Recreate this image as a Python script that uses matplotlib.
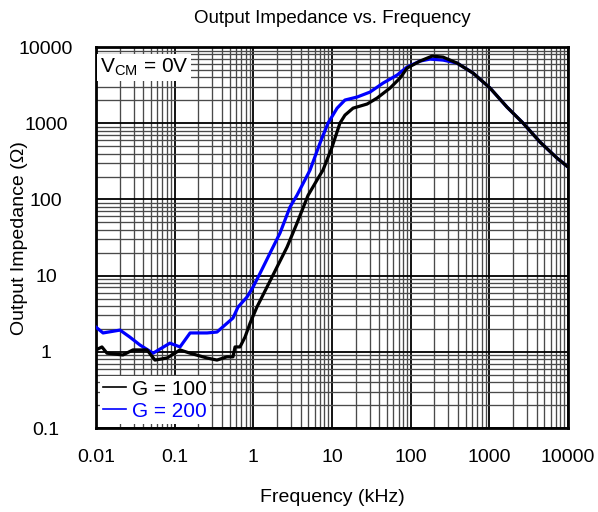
import matplotlib
matplotlib.use("Agg")
import matplotlib.pyplot as plt
from matplotlib.ticker import LogLocator, FixedLocator, NullFormatter

plt.rcParams['font.family'] = ['Liberation Sans', 'DejaVu Sans']

# Frequency (kHz) and output impedance (ohm)
freq_g100 = [0.01, 0.0119, 0.0138, 0.022, 0.0295, 0.0445, 0.0562, 0.080, 0.117, 0.157,
             0.258, 0.345, 0.462, 0.551, 0.585, 0.676, 0.783, 0.91, 1.11, 1.49,
             2.00, 2.68, 3.59, 4.95, 6.44, 7.67, 10.0, 12.6, 14.6, 18.5,
             27.9, 37.3, 54.6, 73.1, 89.8, 131, 187, 258, 388, 620,
             1019, 1675, 2680, 4400, 7240, 10000]
z_g100 = [1.06, 1.16, 0.96, 0.91, 1.06, 1.06, 0.78, 0.83, 1.06, 0.96,
          0.83, 0.78, 0.86, 0.86, 1.16, 1.16, 1.56, 2.39, 3.87, 7.08,
          13.0, 23.7, 49.0, 113, 180, 243, 487, 1005, 1280, 1580,
          1790, 2140, 2900, 3920, 5300, 6550, 7620, 7390, 6170, 4560,
          2900, 1630, 1005, 567, 349, 266]

freq_g200 = [0.01, 0.0123, 0.0202, 0.027, 0.0362, 0.0531, 0.087, 0.117, 0.157, 0.258,
             0.345, 0.436, 0.551, 0.638, 0.83, 0.99, 1.22, 1.63, 2.18, 2.92,
             3.59, 5.25, 7.03, 8.89, 11.6, 14.6, 20.8, 30.4, 44.5, 67.0,
             89.8, 131, 176, 258, 388, 620, 1019, 1675, 2680, 4400,
             7240, 10000]
z_g200 = [2.11, 1.77, 1.93, 1.56, 1.23, 0.96, 1.30, 1.16, 1.77, 1.77,
          1.82, 2.25, 2.78, 3.87, 5.24, 7.08, 10.8, 19.8, 36.2, 79.4,
          114, 243, 550, 1005, 1580, 2020, 2210, 2570, 3370, 4290,
          5470, 6550, 6960, 6750, 6170, 4560, 2900, 1630, 1005, 567,
          349, 266]

x_ticks = [0.01, 0.1, 1, 10, 100, 1000, 10000]
x_labels = ['0.01', '0.1', '1', '10', '100', '1000', '10000']
y_ticks = [0.1, 1, 10, 100, 1000, 10000]
y_labels = ['0.1', '1', '10', '100', '1000', '10000']

fig = plt.figure(figsize=(5.98, 5.12), dpi=100)
ax = fig.add_axes([0.1605, 0.164, 0.7895, 0.744])

ax.plot(freq_g100, z_g100, color='black', lw=2.3, label='G = 100', zorder=3)
ax.plot(freq_g200, z_g200, color='#0000ff', lw=2.3, label='G = 200', zorder=2.9)

ax.set_xscale('log')
ax.set_yscale('log')
ax.set_xlim(0.01, 10000)
ax.set_ylim(0.1, 10000)

ax.xaxis.set_major_locator(FixedLocator(x_ticks))
ax.set_xticklabels(x_labels)
ax.yaxis.set_major_locator(FixedLocator(y_ticks))
ax.set_yticklabels(y_labels)
ax.xaxis.set_minor_locator(LogLocator(base=10, subs=range(2, 10), numticks=20))
ax.yaxis.set_minor_locator(LogLocator(base=10, subs=range(2, 10), numticks=20))
ax.xaxis.set_minor_formatter(NullFormatter())
ax.yaxis.set_minor_formatter(NullFormatter())

ax.grid(which='major', color='black', lw=1.3)
ax.grid(which='minor', color='#4a4a4a', lw=0.95)
ax.set_axisbelow(True)
ax.tick_params(which='both', length=0, labelsize=14)
ax.tick_params(axis='x', pad=15)
ax.tick_params(axis='y', pad=36)
for lbl in ax.get_yticklabels():
    lbl.set_horizontalalignment('center')

for s in ax.spines.values():
    s.set_linewidth(2)

ax.set_title('Output Impedance vs. Frequency', fontsize=13.5, pad=17)
ax.set_xlabel('Frequency (kHz)', fontsize=14, labelpad=17)
ax.set_ylabel('Output Impedance (Ω)', fontsize=14)
ax.yaxis.set_label_coords(-0.144, 0.5)

ax.text(0.008, 0.975, r'V$_\mathregular{CM}$ = 0V', transform=ax.transAxes,
        fontsize=15, va='top', ha='left',
        bbox=dict(facecolor='white', edgecolor='none', pad=2))

leg = ax.legend(loc='lower left', fontsize=15, frameon=True, fancybox=False,
                handlelength=1.1, handletextpad=0.3, borderpad=0.15,
                labelspacing=0.15, borderaxespad=0.2)
leg.get_frame().set_edgecolor('none')
leg.get_frame().set_alpha(1)
for line in leg.get_lines():
    line.set_linewidth(1.2)
for txt, line in zip(leg.get_texts(), leg.get_lines()):
    txt.set_color(line.get_color())

fig.savefig('out.png', dpi=100)
